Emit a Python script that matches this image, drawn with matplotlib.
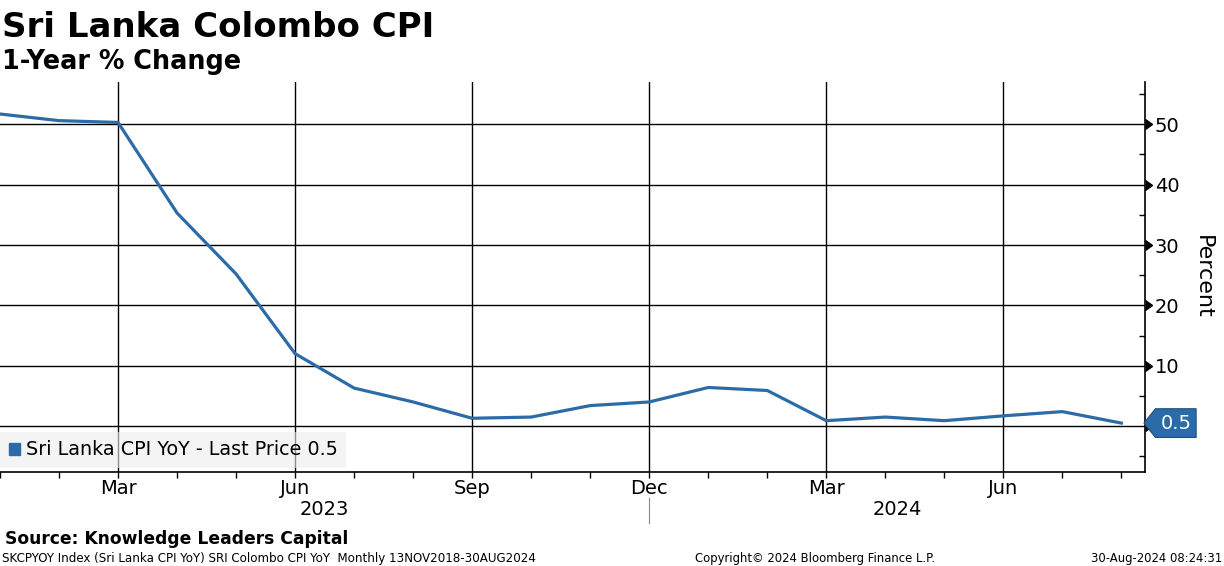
import matplotlib
matplotlib.use("Agg")
import matplotlib.pyplot as plt
import matplotlib.markers as mmarkers
from matplotlib.path import Path
from matplotlib.patches import Patch
from matplotlib.ticker import MultipleLocator, FixedLocator

# monthly data, Jan 2023 .. Aug 2024
months = ["Jan", "Feb", "Mar", "Apr", "May", "Jun", "Jul", "Aug", "Sep", "Oct", "Nov", "Dec",
          "Jan", "Feb", "Mar", "Apr", "May", "Jun", "Jul", "Aug"]
cpi_yoy = [51.7, 50.6, 50.3, 35.3, 25.2, 12.0, 6.3, 4.0, 1.3, 1.5, 3.4, 4.0,
           6.4, 5.9, 0.9, 1.5, 0.9, 1.7, 2.4, 0.5]
major_idx = [2, 5, 8, 11, 14, 17]
years = ["2023", "2024"]
last_price = cpi_yoy[-1]

BLUE = "#2b6ca8"
W, H = 1224, 566

fig = plt.figure(figsize=(W / 100, H / 100), dpi=100)
ax = fig.add_axes([0, (H - 472) / H, 1145 / W, (472 - 82) / H])

x = list(range(len(cpi_yoy)))
ax.plot(x, cpi_yoy, color=BLUE, lw=2.3, zorder=3, solid_joinstyle="round")

ax.set_xlim(0, 19.4)
ax.set_ylim(-7.6, 57)

# x axis: month ticks
ax.xaxis.set_major_locator(FixedLocator(major_idx))
ax.set_xticklabels([months[i] for i in major_idx])
ax.xaxis.set_minor_locator(MultipleLocator(1))
ax.tick_params(axis="x", which="both", direction="out", length=4, width=1,
               labelsize=14, pad=1, colors="black")

# y axis on the right
ax.yaxis.tick_right()
ax.yaxis.set_label_position("right")
ax.yaxis.set_major_locator(FixedLocator([0, 10, 20, 30, 40, 50]))
ax.set_yticklabels(["", "10", "20", "30", "40", "50"])
ax.yaxis.set_minor_locator(FixedLocator([-5, 5, 15, 25, 35, 45, 55]))
ax.tick_params(axis="y", which="major", direction="out", length=6, width=1,
               labelsize=14, pad=1)
ax.tick_params(axis="y", which="minor", direction="in", length=4, width=1)
for t in ax.yaxis.get_major_ticks():
    t.tick2line.set_marker(mmarkers.CARETRIGHTBASE)
    t.tick2line.set_markersize(7)
ax.set_ylabel("Percent", fontsize=16, rotation=270, labelpad=24)

for s in ["top", "left"]:
    ax.spines[s].set_visible(False)
for s in ["right", "bottom"]:
    ax.spines[s].set_linewidth(1.2)

ax.grid(True, which="major", color="black", lw=1)
ax.set_axisbelow(True)

# year labels under the month labels
ax.text(11 / 2, -0.072, years[0], transform=ax.get_xaxis_transform(),
        ha="center", va="top", fontsize=14)
ax.text((11 + 19.4) / 2, -0.072, years[1], transform=ax.get_xaxis_transform(),
        ha="center", va="top", fontsize=14)
ax.plot([11, 11], [-0.067, -0.13], transform=ax.get_xaxis_transform(),
        color="#888888", lw=0.8, clip_on=False)

# legend
leg = ax.legend([Patch(facecolor=BLUE, edgecolor=BLUE)],
                ["Sri Lanka CPI YoY - Last Price %.1f" % last_price],
                loc="lower left", bbox_to_anchor=(0, 0.01), borderaxespad=0,
                fontsize=13.8, frameon=True, fancybox=False, handlelength=0.6,
                handleheight=0.6, handletextpad=0.3, borderpad=0.45)
leg.get_frame().set_facecolor("#eeeeee")
leg.get_frame().set_edgecolor("none")
leg.get_frame().set_alpha(0.6)


# last price tag
def tag_box(x0, y0, width, height, mutation_size):
    pad = 0.25 * mutation_size
    x0, y0 = x0 - pad, y0 - pad
    w, h = width + 2 * pad, height + 2 * pad
    tip = 0.4 * h
    verts = [(x0 - tip, y0 + h / 2), (x0, y0), (x0 + w, y0), (x0 + w, y0 + h),
             (x0, y0 + h), (x0 - tip, y0 + h / 2)]
    return Path(verts, closed=True)


ax.annotate("%.1f" % last_price, xy=(1, last_price),
            xycoords=("axes fraction", "data"), xytext=(11, 0),
            textcoords="offset points", ha="left", va="center",
            fontsize=14, color="white", annotation_clip=False,
            bbox=dict(boxstyle=tag_box, fc=BLUE, ec="#1b4f80", lw=0.8))

# titles and footers
fig.text(2 / W, 1 - 37 / H, "Sri Lanka Colombo CPI", fontsize=24.5,
         fontweight="bold", va="baseline", ha="left")
fig.text(2 / W, 1 - 69 / H, "1-Year % Change", fontsize=18.4,
         fontweight="bold", va="baseline", ha="left")
fig.text(5 / W, 1 - 544 / H, "Source: Knowledge Leaders Capital", fontsize=12.3,
         fontweight="bold", va="baseline", ha="left")
fig.text(2 / W, 1 - 562 / H,
         "SKCPYOY Index (Sri Lanka CPI YoY) SRI Colombo CPI YoY  Monthly 13NOV2018-30AUG2024",
         fontsize=8.6, va="baseline", ha="left")
fig.text(695 / W, 1 - 562 / H, "Copyright\u00a9 2024 Bloomberg Finance L.P.",
         fontsize=8.4, va="baseline", ha="left")
fig.text(1222 / W, 1 - 562 / H, "30-Aug-2024 08:24:31",
         fontsize=8.4, va="baseline", ha="right")

fig.savefig("out.png", dpi=100)
